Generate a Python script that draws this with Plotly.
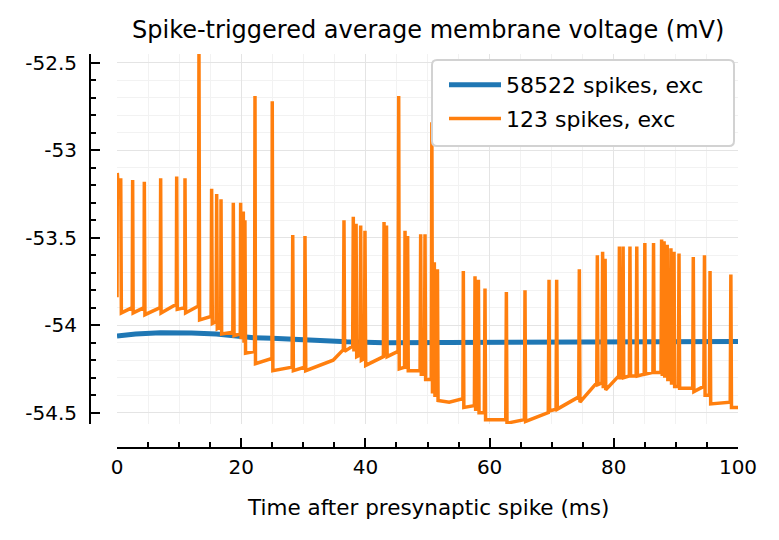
import plotly.graph_objects as go

# ---------------- data ----------------
blue_name = "58522 spikes, exc"
orange_name = "123 spikes, exc"

blue_t = [0, 3, 7, 10, 12, 16, 19, 22, 25, 28, 32, 37, 43, 50, 55, 60, 65, 70, 75, 80, 85, 90, 95, 100]
blue_v = [-54.062, -54.05, -54.043, -54.042, -54.045, -54.05, -54.062, -54.072, -54.075, -54.08,
          -54.089, -54.095, -54.10, -54.10, -54.10, -54.10, -54.10, -54.10, -54.098, -54.098,
          -54.096, -54.095, -54.095, -54.094]

orange_t = [
    0.0, 0.05, 0.3, 0.6, 0.7, 2.45, 2.52, 2.6, 4.35, 4.40, 4.5, 6.95, 7.03, 7.1, 9.55, 9.61, 9.7,
    10.9, 10.95, 11.05, 13.1, 13.2, 13.3, 15.15, 15.24, 15.35, 15.95, 16.05, 16.15, 16.7, 16.75,
    16.85, 18.65, 18.73, 18.85, 19.85, 19.91, 20.0, 20.34, 20.45, 20.6, 20.7, 22.15, 22.22, 22.3,
    24.95, 25.0, 25.1, 28.2, 28.3, 28.4, 30.2, 30.27, 30.4, 34.8, 36.45, 36.55, 36.65, 37.95,
    38.05, 38.15, 38.45, 38.5, 38.6, 39.15, 39.24, 39.35, 39.85, 39.93, 40.05, 42.9, 43.0, 43.1,
    43.3, 43.4, 43.5, 45.25, 45.36, 45.45, 46.3, 46.38, 46.5, 46.7, 46.8, 46.9, 48.8, 48.9, 49.0,
    49.5, 49.6, 49.7, 50.6, 50.7, 50.8, 51.0, 51.1, 51.2, 51.5, 51.6, 51.7, 53.5, 55.7, 55.77,
    55.85, 57.55, 57.65, 57.75, 58.1, 58.2, 58.3, 59.15, 59.26, 59.35, 62.6, 62.7, 62.8, 65.6,
    65.7, 65.8, 69.45, 69.57, 69.65, 70.7, 70.8, 70.9, 72.5, 74.35, 74.45, 74.55, 77.25, 77.35,
    77.45, 78.1, 78.2, 78.3, 78.5, 78.6, 78.7, 80.8, 80.9, 81.0, 81.4, 81.5, 81.6, 82.5, 82.6,
    82.7, 83.6, 83.7, 83.8, 84.9, 85.0, 85.1, 86.3, 86.4, 86.5, 87.6, 87.7, 87.8, 88.0, 88.1,
    88.2, 88.5, 88.6, 88.7, 89.1, 89.2, 89.3, 89.6, 89.7, 89.8, 90.4, 90.5, 90.6, 92.7, 92.8,
    92.9, 94.5, 94.6, 94.7, 95.4, 95.5, 95.6, 98.75, 98.85, 98.95, 100.0]
orange_v = [
    -53.84, -53.13, -53.28, -53.16, -53.93, -53.90, -53.17, -53.93, -53.90, -53.18, -53.94,
    -53.90, -53.16, -53.93, -53.88, -53.15, -53.91, -53.90, -53.16, -53.93, -53.89, -52.446,
    -53.97, -53.95, -53.22, -53.99, -53.98, -53.25, -54.02, -54.01, -53.28, -54.05, -54.04,
    -53.30, -54.06, -54.05, -53.30, -54.08, -53.35, -54.10, -53.40, -54.16, -54.15, -52.69,
    -54.22, -54.19, -52.72, -54.26, -54.24, -53.485, -54.26, -54.24, -53.49, -54.26, -54.20,
    -54.14, -53.40, -54.15, -54.12, -53.38, -54.14, -54.14, -53.42, -54.18, -54.17, -53.43,
    -54.20, -54.19, -53.46, -54.23, -54.18, -53.41, -54.17, -54.17, -53.43, -54.18, -54.15,
    -52.69, -54.25, -54.24, -53.46, -54.24, -54.24, -53.49, -54.26, -54.26, -53.48, -54.28,
    -54.28, -53.48, -54.31, -54.31, -52.84, -54.38, -54.38, -53.64, -54.40, -54.40, -53.68,
    -54.43, -54.44, -54.42, -53.69, -54.47, -54.46, -53.72, -54.48, -54.48, -53.74, -54.50,
    -54.50, -53.79, -54.54, -54.54, -53.81, -54.56, -54.54, -53.80, -54.55, -54.50, -53.74,
    -54.49, -54.48, -53.74, -54.48, -54.45, -54.41, -53.68, -54.44, -54.33, -53.60, -54.34,
    -54.33, -53.58, -54.35, -54.35, -53.62, -54.37, -54.29, -53.55, -54.30, -54.30, -53.55,
    -54.30, -54.29, -53.55, -54.29, -54.29, -53.55, -54.29, -54.28, -53.53, -54.28, -54.27,
    -53.53, -54.27, -54.27, -53.51, -54.28, -54.28, -53.52, -54.29, -54.29, -53.54, -54.31,
    -54.31, -53.56, -54.33, -54.33, -53.58, -54.35, -54.35, -53.59, -54.36, -54.36, -53.61,
    -54.38, -54.35, -53.60, -54.40, -54.40, -53.69, -54.45, -54.44, -53.71, -54.47, -54.47]

x_tickvals = [0, 20, 40, 60, 80, 100]
x_ticktext = ["0", "20", "40", "60", "80", "100"]
y_tickvals = [-54.5, -54.0, -53.5, -53.0, -52.5]
y_ticktext = ["-54.5", "-54", "-53.5", "-53", "-52.5"]

title_text = "Spike-triggered average membrane voltage (mV)"
xlabel_text = "Time after presynaptic spike (ms)"

# ---------------- figure ----------------
W, H = 779, 540
FONT = "DejaVu Sans"
x0, x1 = 117, 738      # plot area left/right (px)
y0, y1 = 54, 424       # plot area top/bottom (px)

fig = go.Figure()
fig.add_trace(go.Scatter(x=blue_t, y=blue_v, mode="lines", name=blue_name,
                         line=dict(color="#1f77b4", width=5), legendgroup="a"))
fig.add_trace(go.Scatter(x=orange_t, y=orange_v, mode="lines", name=orange_name,
                         line=dict(color="#ff7f0e", width=3.5), legendgroup="b"))

axis_common = dict(
    showline=True, linecolor="black", linewidth=2,
    ticks="inside", tickcolor="black", tickwidth=2, ticklen=9,
    showgrid=True, gridcolor="#e4e4e4", gridwidth=1,
    zeroline=False, anchor="free", automargin=False,
)

# legend frame (rounded rectangle, in paper coordinates)
bx0, bx1, by0, by1, rad = 432, 734, 60, 146, 5
def px(x):
    return x / W
def py(y):
    return 1 - y / H
frame_path = (
    f"M {px(bx0 + rad)} {py(by0)} L {px(bx1 - rad)} {py(by0)} "
    f"Q {px(bx1)} {py(by0)} {px(bx1)} {py(by0 + rad)} L {px(bx1)} {py(by1 - rad)} "
    f"Q {px(bx1)} {py(by1)} {px(bx1 - rad)} {py(by1)} L {px(bx0 + rad)} {py(by1)} "
    f"Q {px(bx0)} {py(by1)} {px(bx0)} {py(by1 - rad)} L {px(bx0)} {py(by0 + rad)} "
    f"Q {px(bx0)} {py(by0)} {px(bx0 + rad)} {py(by0)} Z"
)

fig.update_layout(
    width=W, height=H,
    margin=dict(l=0, r=0, t=0, b=0, autoexpand=False),
    paper_bgcolor="white", plot_bgcolor="white",
    font=dict(family=FONT, color="black"),
    xaxis=dict(
        axis_common,
        domain=[x0 / W, x1 / W], range=[0, 100],
        position=1 - 448 / H,
        tickmode="array", tickvals=x_tickvals, ticktext=x_ticktext,
        tickfont=dict(size=20, family=FONT), ticklabelstandoff=1,
        minor=dict(tickmode="linear", tick0=0, dtick=5, ticks="inside", ticklen=5,
                   tickwidth=1.5, tickcolor="black", showgrid=True,
                   gridcolor="#f2f2f2", gridwidth=1),
    ),
    yaxis=dict(
        axis_common,
        domain=[1 - y1 / H, 1 - y0 / H], range=[-54.565, -52.45],
        position=90 / W,
        tickmode="array", tickvals=y_tickvals, ticktext=y_ticktext,
        tickfont=dict(size=20, family=FONT), ticklabelstandoff=8,
        minor=dict(tickmode="linear", tick0=-54.5, dtick=0.1, ticks="inside", ticklen=5,
                   tickwidth=1.5, tickcolor="black", showgrid=True,
                   gridcolor="#f2f2f2", gridwidth=1),
    ),
    legend=dict(
        x=444 / W, y=1 - 64 / H, xanchor="left", yanchor="top",
        bgcolor="rgba(0,0,0,0)", borderwidth=0,
        font=dict(size=22, family=FONT), tracegroupgap=2, itemwidth=52,
    ),
    showlegend=True,
    shapes=[dict(type="path", xref="paper", yref="paper", path=frame_path,
                 fillcolor="white", line=dict(color="#d2d2d2", width=2), layer="above")],
)

fig.add_annotation(text=title_text, xref="paper", yref="paper",
                   x=(x0 + x1) / 2 / W, y=1 - 30 / H, xanchor="center", yanchor="middle",
                   showarrow=False, font=dict(size=24, family=FONT, color="black"))
fig.add_annotation(text=xlabel_text, xref="paper", yref="paper",
                   x=(x0 + x1) / 2 / W, y=1 - 507 / H, xanchor="center", yanchor="middle",
                   showarrow=False, font=dict(size=21.5, family=FONT, color="black"))

fig.write_html("out.html", config={"displayModeBar": False},
               post_script="document.body.style.margin='0';document.body.style.overflow='hidden';")
